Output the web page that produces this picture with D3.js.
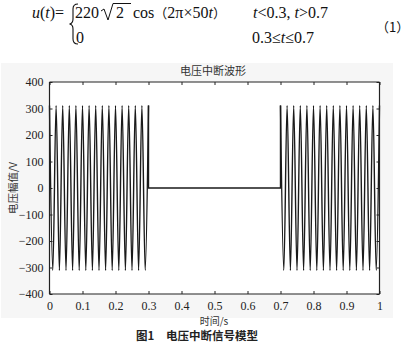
<!DOCTYPE html>
<html><head><meta charset="utf-8">
<script src="https://cdn.jsdelivr.net/npm/d3@7"></script>
<style>
html,body{margin:0;padding:0;background:#fff;}
svg{display:block;}
.serif{font-family:"Liberation Serif","Times New Roman","DejaVu Serif",serif;}
.cjk{font-family:"Noto Sans CJK SC","Noto Sans",sans-serif;}
</style></head>
<body>
<svg id="c" width="414" height="355"></svg>
<script>
// ---- data ----
const chartTitle = "电压中断波形";
const xLabel = "时间/s";
const yLabel = "电压幅值/V";
const caption = "图1\u2003电压中断信号模型";
const xTicks = [0, 0.1, 0.2, 0.3, 0.4, 0.5, 0.6, 0.7, 0.8, 0.9, 1];
const yTicks = [-400, -300, -200, -100, 0, 100, 200, 300, 400];
// extrema of the waveform before the interruption (t, u)
const timesA = [0.00,0.01,0.02,0.03,0.04,0.05,0.06,0.07,0.08,0.09,0.10,0.11,0.12,0.13,0.14,0.15,
                0.16,0.17,0.18,0.19,0.20,0.21,0.22,0.23,0.24,0.25,0.26,0.27,0.28,0.29,0.30];
const valuesA = [311,-311,311,-311,311,-311,311,-311,311,-311,311,-311,311,-311,311,-311,
                 311,-311,311,-311,311,-311,311,-311,311,-311,311,-311,311,-311,311];
// interruption
const timesGap = [0.30, 0.30, 0.70, 0.70];
const valuesGap = [311, 0, 0, 311];
// extrema after the interruption
const timesB = [0.70,0.71,0.72,0.73,0.74,0.75,0.76,0.77,0.78,0.79,0.80,0.81,0.82,0.83,0.84,0.85,
                0.86,0.87,0.88,0.89,0.90,0.91,0.92,0.93,0.94,0.95,0.96,0.97,0.98,0.99,1.00];
const valuesB = [311,-311,311,-311,311,-311,311,-311,311,-311,311,-311,311,-311,311,-311,
                 311,-311,311,-311,311,-311,311,-311,311,-311,311,-311,311,-311,311];

// ---- drawing ----
const svg = d3.select("#c");

// formula
const f = svg.append("g").attr("class", "serif").attr("font-size", 16).attr("fill", "#111");
const l1 = f.append("text").attr("x", 32).attr("y", 18);
l1.append("tspan").attr("font-style", "italic").text("u");
l1.append("tspan").text("(");
l1.append("tspan").attr("font-style", "italic").text("t");
l1.append("tspan").text(")=");
f.append("path").attr("d", "M78,4 Q73,4 73,9 L73,19 Q73,23.5 69.5,24 Q73,24.5 73,29 L73,39 Q73,44 78,44")
  .attr("fill", "none").attr("stroke", "#111").attr("stroke-width", 1.1);
f.append("text").attr("x", 75).attr("y", 18).text("220");
f.append("path").attr("d", "M101,11 L104,9 L108,20 L113,3.5 L131,3.5").attr("fill", "none").attr("stroke", "#111").attr("stroke-width", 1);
f.append("text").attr("x", 116).attr("y", 18).text("2");
const c1 = f.append("text").attr("x", 133).attr("y", 18);
c1.append("tspan").text("cos");
c1.append("tspan").attr("class", "cjk").attr("font-size", 13).text("（");
c1.append("tspan").text("2π×50");
c1.append("tspan").attr("font-style", "italic").text("t");
c1.append("tspan").attr("class", "cjk").attr("font-size", 13).text("）");
const c2 = f.append("text").attr("x", 253).attr("y", 18);
c2.append("tspan").attr("font-style", "italic").text("t");
c2.append("tspan").text("<0.3, ");
c2.append("tspan").attr("font-style", "italic").text("t");
c2.append("tspan").text(">0.7");
f.append("text").attr("x", 76).attr("y", 43).text("0");
const c3 = f.append("text").attr("x", 252).attr("y", 43);
c3.append("tspan").text("0.3≤");
c3.append("tspan").attr("font-style", "italic").text("t");
c3.append("tspan").text("≤0.7");
f.append("text").attr("x", 376).attr("y", 32).attr("class", "cjk").attr("font-size", 13).text("（1）");

// figure background
svg.append("rect").attr("x", 1).attr("y", 63).attr("width", 392).attr("height", 255).attr("fill", "#f6f6f6");

const x = d3.scaleLinear().domain([0, 1]).range([49.5, 379.5]);
const y = d3.scaleLinear().domain([-400, 400]).range([294, 82]);

svg.append("rect").attr("x", x(0)).attr("y", y(400)).attr("width", x(1) - x(0)).attr("height", y(-400) - y(400)).attr("fill", "#fff");

// waveform
const lineSmooth = d3.line().x(d => x(d[0])).y(d => y(d[1])).curve(d3.curveMonotoneX);
const lineStraight = d3.line().x(d => x(d[0])).y(d => y(d[1]));
const segA = timesA.map((t, i) => [t, valuesA[i]]);
const segB = timesB.map((t, i) => [t, valuesB[i]]);
const segG = timesGap.map((t, i) => [t, valuesGap[i]]);
const wg = svg.append("g").attr("fill", "none").attr("stroke", "#1a1a1a").attr("stroke-width", 1.4);
wg.append("path").attr("d", lineSmooth(segA));
wg.append("path").attr("d", lineStraight(segG));
wg.append("path").attr("d", lineSmooth(segB));

// axes (inward ticks, box)
const xFmt = d => d === 0 ? "0" : d === 1 ? "1" : d3.format(".1f")(d);
const yFmt = d => d < 0 ? "−" + Math.abs(d) : String(d);
const xb = svg.append("g").attr("transform", `translate(0,${y(-400)})`)
  .call(d3.axisBottom(x).tickValues(xTicks).tickSize(-3).tickPadding(7).tickFormat(xFmt));
const xt = svg.append("g").attr("transform", `translate(0,${y(400)})`)
  .call(d3.axisTop(x).tickValues(xTicks).tickSize(-3).tickFormat(""));
const yl = svg.append("g").attr("transform", `translate(${x(0)},0)`)
  .call(d3.axisLeft(y).tickValues(yTicks).tickSize(-3).tickPadding(6).tickFormat(yFmt));
const yr = svg.append("g").attr("transform", `translate(${x(1)},0)`)
  .call(d3.axisRight(y).tickValues(yTicks).tickSize(-3).tickFormat(""));
[xb, xt, yl, yr].forEach(g => {
  g.attr("font-family", null);
  g.selectAll(".domain").attr("stroke", "#222").attr("stroke-width", 1.2);
  g.selectAll(".tick line").attr("stroke", "#222");
  g.selectAll("text").attr("class", "serif").attr("font-size", 12).attr("fill", "#222");
});
xb.selectAll(".domain").attr("d", `M${x(0)},0H${x(1)}`);
xt.selectAll(".domain").attr("d", `M${x(0)},0H${x(1)}`);
yl.selectAll(".domain").attr("d", `M0,${y(-400)}V${y(400)}`);
yr.selectAll(".domain").attr("d", `M0,${y(-400)}V${y(400)}`);

// labels
svg.append("text").attr("x", 213).attr("y", 75).attr("text-anchor", "middle")
  .attr("class", "cjk").attr("font-size", 11).attr("fill", "#333").text(chartTitle);
svg.append("text").attr("x", 214).attr("y", 324.5).attr("text-anchor", "middle")
  .attr("class", "cjk").attr("font-size", 10).attr("fill", "#333")
  .text(xLabel);
svg.append("text").attr("transform", "translate(17,188) rotate(-90)").attr("text-anchor", "middle")
  .attr("class", "cjk").attr("font-size", 10.5).attr("fill", "#333").text(yLabel);
svg.append("text").attr("x", 197).attr("y", 339.5).attr("text-anchor", "middle")
  .attr("class", "cjk").attr("font-weight", "bold").attr("font-size", 11.5).attr("fill", "#222").text(caption);
</script>
</body></html>
